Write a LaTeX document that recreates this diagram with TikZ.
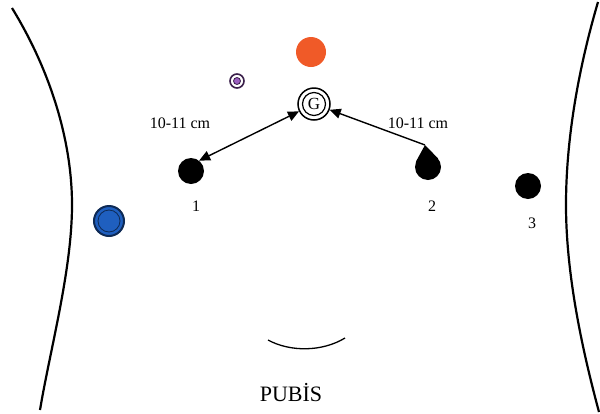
\documentclass[tikz,border=0pt]{standalone}
\usepackage{fontspec}
\setmainfont{Liberation Serif}
\usetikzlibrary{arrows.meta}
\definecolor{portorange}{HTML}{F05A28}
\definecolor{portpurple}{HTML}{9B5FC0}
\definecolor{portpurpledark}{HTML}{3A1F4A}
\definecolor{portblue}{HTML}{1F5FBF}
\definecolor{portbluedark}{HTML}{0E2A55}
\tikzset{
  body/.style={line width=2.2pt, black},
  trocar/.style={circle, fill=black, minimum size=26pt, inner sep=0pt},
  porttip/.tip={Triangle[length=11pt,width=10pt]},
  lbl/.style={font=\fontsize{16}{18}\selectfont},
  num/.style={font=\fontsize{16}{18}\selectfont}
}
\begin{document}
\begin{tikzpicture}[x=1pt,y=-1pt]
  \useasboundingbox (0,0) rectangle (600,413);
  % flanks of the abdomen
  \draw[body] (12,8) .. controls (50,70) and (72,140) .. (72,205)
              .. controls (72,270) and (50,350) .. (40,410);
  \draw[body] (598,2) .. controls (578,70) and (566,140) .. (566,205)
              .. controls (566,280) and (585,360) .. (599,412);
  % ports
  \node[circle, fill=portorange, minimum size=30pt, inner sep=0pt] (orange) at (311,52) {};
  \node[circle, draw=portpurpledark, line width=1.6pt, fill=white, minimum size=14pt, inner sep=0pt] (purple) at (237,81) {};
  \node[circle, draw=portpurpledark, line width=0.8pt, fill=portpurple, minimum size=7pt, inner sep=0pt] (purplein) at (purple) {};
  \node[circle, draw=black, line width=1.5pt, minimum size=32pt, inner sep=0pt] (g) at (314,104) {};
  \node[circle, draw=black, line width=1.2pt, minimum size=23pt, inner sep=0pt, font=\fontsize{17}{17}\selectfont] (gin) at (g) {G};
  \node[trocar] (d1) at (191,171) {};
  \node[trocar] (d2) at (428,167) {};
  \node[trocar] (d3) at (528,186) {};
  \node[circle, draw=portbluedark, line width=2pt, fill=portblue, minimum size=30pt, inner sep=0pt] (blue) at (109,221) {};
  \node[circle, draw=portbluedark, line width=0.8pt, minimum size=22pt, inner sep=0pt] (bluein) at (blue) {};
  % drop-shaped end on port 2
  \coordinate (d2tip) at (425,145);
  \fill (d2tip) -- (d2.40) -- (d2.center) -- (d2.155) -- cycle;
  % distances from the optic port
  \draw[line width=1.4pt, {porttip}-{porttip}] (g) -- (d1.52);
  \draw[line width=1.4pt, {porttip}-] (g) -- (d2tip);
  \node[lbl] (l1) at (180,123) {10-11 cm};
  \node[lbl] (l2) at (418,123) {10-11 cm};
  \node[num] (n1) at (196,206) {1};
  \node[num] (n2) at (432,206) {2};
  \node[num] (n3) at (532,223) {3};
  % pubic arc
  \draw[line width=1.3pt] (268,340) .. controls (290,352) and (322,352) .. (345,338);
  \node[font=\fontsize{22}{24}\selectfont, anchor=base] (pubis) at (291,401) {PUBİS};
\end{tikzpicture}
\end{document}
